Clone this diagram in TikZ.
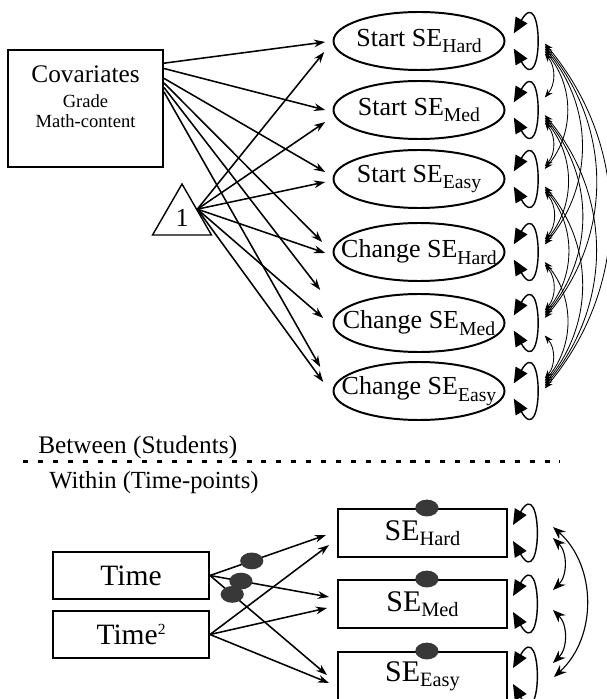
\documentclass[tikz,border=0pt]{standalone}
\usepackage{fontspec}
\setmainfont{Liberation Serif}
\usepackage{tikz}
\usetikzlibrary{arrows.meta,shapes.geometric,positioning}

\newcommand{\lowidx}[1]{\raisebox{-4.5pt}{\fontsize{14}{15}\selectfont #1}}
\newcommand{\lowidxb}[1]{\raisebox{-3.5pt}{\fontsize{14.5}{15}\selectfont #1}}

\begin{document}
\begin{tikzpicture}[
	latent/.style={minimum width=4.275cm, minimum height=1.45cm, inner sep=0pt, font=\fontsize{18.5}{20}\selectfont},
	ring/.style={line width=1.4pt},
	obsbox/.style={draw, line width=1.4pt, inner sep=0pt},
	reg/.style={-{Stealth[length=8pt,width=5.5pt]}, line width=1.1pt},
	varloop/.style={{Triangle[length=11pt,width=9.5pt]}-{Triangle[length=11pt,width=9.5pt]}, line width=1pt, out=60, in=-60, distance=1.5cm},
	covarc/.style={{Stealth[length=6pt,width=4.5pt]}-{Stealth[length=6pt,width=4.5pt]}, line width=0.6pt, bend left=40},
	covbig/.style={{Stealth[length=9pt,width=7pt]}-{Stealth[length=9pt,width=7pt]}, line width=0.8pt, bend left=46},
	blob/.style={ellipse, fill=black!78, minimum width=0.58cm, minimum height=0.42cm, inner sep=0pt},
	tag/.style={inner sep=0pt, anchor=base west},
	dashline/.style={line width=2pt, dash pattern=on 3.6pt off 7pt}]
	\useasboundingbox (0,0) rectangle (15.15,-17.475);
	
	% between level
	\node(cov) [obsbox] at (2.1375,-2.7125) {\parbox[c][2.925cm][t]{3.875cm}{\centering\vspace*{11pt}%
		{\fontsize{18}{20}\selectfont Covariates\par}\vspace{3.5pt}%
		{\fontsize{13.2}{14.2}\selectfont Grade\\ Math-content\par}}};
	\node(one) [regular polygon, regular polygon sides=3, draw, line width=1pt, minimum size=1.7cm, inner sep=0pt, font=\fontsize{18.5}{20}\selectfont] at (4.55,-5.45) {1};
	
	\node(startH) [latent] at (10.475,-1.025) {Start SE\lowidx{Hard}};
	\node(startM) [latent] at (10.475,-2.75) {Start SE\lowidx{Med}};
	\node(startE) [latent] at (10.475,-4.475) {Start SE\lowidx{Easy}};
	\node(changeH) [latent] at (10.475,-6.3) {Change SE\lowidx{Hard}};
	\node(changeM) [latent] at (10.475,-8.075) {Change SE\lowidx{Med}};
	\node(changeE) [latent] at (10.475,-9.775) {Change SE\lowidx{Easy}};
	
	\draw[ring] (startH.center) ellipse [x radius=2.1375cm, y radius=0.725cm];
	\draw[ring] (startM.center) ellipse [x radius=2.1375cm, y radius=0.725cm];
	\draw[ring] (startE.center) ellipse [x radius=2.1375cm, y radius=0.725cm];
	\draw[ring] (changeH.center) ellipse [x radius=2.1375cm, y radius=0.725cm];
	\draw[ring] (changeM.center) ellipse [x radius=2.1375cm, y radius=0.725cm];
	\draw[ring] (changeE.center) ellipse [x radius=2.1375cm, y radius=0.725cm];
	
	\path [reg]
	(cov.30)   edge ([shift={(-0.2,-0.025)}]startH.west)
	(cov.27)   edge ([shift={(-0.2,0)}]startM.west)
	(cov.21.5) edge ([shift={(-0.2,0.175)}]startE.west)
	(cov.18.6) edge ([shift={(-0.275,0.25)}]changeH.west)
	(cov.15.5) edge ([shift={(-0.325,0.825)}]changeM.west)
	(cov.12.6) edge ([shift={(-0.325,0.6)}]changeE.west)
	(one.side 3) edge ([shift={(-0.225,-0.275)}]startH.west)
	(one.side 3) edge ([shift={(-0.2,-0.3)}]startM.west)
	(one.side 3) edge ([shift={(-0.2,-0.075)}]startE.west)
	(one.side 3) edge ([shift={(-0.2,-0.025)}]changeH.west)
	(one.side 3) edge ([shift={(-0.25,0.125)}]changeM.west)
	(one.side 3) edge ([shift={(-0.25,0.225)}]changeE.west);
	
	\path [varloop]
	([shift={(0.225,0.19)}]startH.east) edge ([shift={(0.225,-0.19)}]startH.east)
	([shift={(0.225,0.19)}]startM.east) edge ([shift={(0.225,-0.19)}]startM.east)
	([shift={(0.225,0.19)}]startE.east) edge ([shift={(0.225,-0.19)}]startE.east)
	([shift={(0.225,0.19)}]changeH.east) edge ([shift={(0.225,-0.19)}]changeH.east)
	([shift={(0.225,0.19)}]changeM.east) edge ([shift={(0.225,-0.19)}]changeM.east)
	([shift={(0.225,0.19)}]changeE.east) edge ([shift={(0.225,-0.19)}]changeE.east);
	
	\path [covarc]
	([shift={(1,-0.3125)}]startH.east) edge ([shift={(1,0.3125)}]startM.east)
	([shift={(1,-0.25)}]startH.east)   edge ([shift={(1,0.25)}]startE.east)
	([shift={(1,-0.1875)}]startH.east) edge ([shift={(1,0.1875)}]changeH.east)
	([shift={(1,-0.125)}]startH.east)  edge ([shift={(1,0.125)}]changeM.east)
	([shift={(1,-0.0625)}]startH.east) edge ([shift={(1,0.0625)}]changeE.east)
	([shift={(1,-0.3125)}]startM.east) edge ([shift={(1,0.3125)}]startE.east)
	([shift={(1,-0.25)}]startM.east)   edge ([shift={(1,0.25)}]changeH.east)
	([shift={(1,-0.1875)}]startM.east) edge ([shift={(1,0.1875)}]changeM.east)
	([shift={(1,-0.125)}]startM.east)  edge ([shift={(1,0.125)}]changeE.east)
	([shift={(1,-0.3125)}]startE.east) edge ([shift={(1,0.3125)}]changeH.east)
	([shift={(1,-0.25)}]startE.east)   edge ([shift={(1,0.25)}]changeM.east)
	([shift={(1,-0.1875)}]startE.east) edge ([shift={(1,0.1875)}]changeE.east)
	([shift={(1,-0.3125)}]changeH.east) edge ([shift={(1,0.3125)}]changeM.east)
	([shift={(1,-0.25)}]changeH.east)   edge ([shift={(1,0.25)}]changeE.east)
	([shift={(1,-0.3125)}]changeM.east) edge ([shift={(1,0.3125)}]changeE.east);
	
	% level separator
	\node(between) [tag, font=\fontsize{18}{20}\selectfont] at (0.95,-11.325) {Between (Students)};
	\coordinate (sepL) at (0.575,-11.54);
	\coordinate (sepR) at (14.0,-11.54);
	\draw[dashline] (sepL) -- (sepR);
	\node(within) [tag, font=\fontsize{17.5}{19}\selectfont] at (1.225,-12.2) {Within (Time-points)};
	
	% within level
	\node(time) [obsbox, minimum width=3.9cm, minimum height=1.175cm, font=\fontsize{21}{22}\selectfont] at (3.275,-14.3875) {Time};
	\node(time2) [obsbox, minimum width=3.9cm, minimum height=1.175cm, font=\fontsize{21}{22}\selectfont] at (3.275,-15.8625) {Time\raisebox{7.5pt}{\fontsize{11}{11}\selectfont 2}};
	\node(seH) [obsbox, minimum width=4.225cm, minimum height=1.2cm, font=\fontsize{21.3}{22}\selectfont] at (10.5625,-13.325) {SE\lowidxb{Hard}};
	\node(seM) [obsbox, minimum width=4.225cm, minimum height=1.2cm, font=\fontsize{21.3}{22}\selectfont] at (10.5625,-15.1) {SE\lowidxb{Med}};
	\node(seE) [obsbox, minimum width=4.225cm, minimum height=1.2cm, font=\fontsize{21.3}{22}\selectfont] at (10.5625,-16.9) {SE\lowidxb{Easy}};
	
	\node(bH) [blob] at ([xshift=0.11cm]seH.north) {};
	\node(bM) [blob] at ([xshift=0.11cm]seM.north) {};
	\node(bE) [blob] at ([xshift=0.11cm]seE.north) {};
	
	\path [reg]
	(time.east)  edge node[blob, pos=0.36] {} ([shift={(-0.275,-0.05)}]seH.west)
	(time.east)  edge node[blob, pos=0.26] {} ([shift={(-0.2,0.175)}]seM.west)
	(time.east)  edge node[blob, pos=0.19] {} ([shift={(-0.25,0.025)}]seE.west)
	(time2.east) edge ([shift={(-0.2,-0.3)}]seH.west)
	(time2.east) edge ([shift={(-0.25,-0.1)}]seM.west)
	(time2.east) edge ([shift={(-0.2,-0.175)}]seE.west);
	
	\path [varloop]
	([shift={(0.125,0.2)}]seH.east) edge ([shift={(0.125,-0.2)}]seH.east)
	([shift={(0.125,0.2)}]seM.east) edge ([shift={(0.125,-0.2)}]seM.east)
	([shift={(0.125,0.2)}]seE.east) edge ([shift={(0.125,-0.2)}]seE.east);
	
	\path [covbig]
	([shift={(1.125,-0.125)}]seH.east) edge ([shift={(1.125,0.35)}]seM.east)
	([shift={(1.125,-0.15)}]seM.east)  edge ([shift={(1.125,0.325)}]seE.east)
	([shift={(1.125,0.15)}]seH.east)   edge [bend left=48] ([shift={(1.15,-0.025)}]seE.east);
\end{tikzpicture}
\end{document}
